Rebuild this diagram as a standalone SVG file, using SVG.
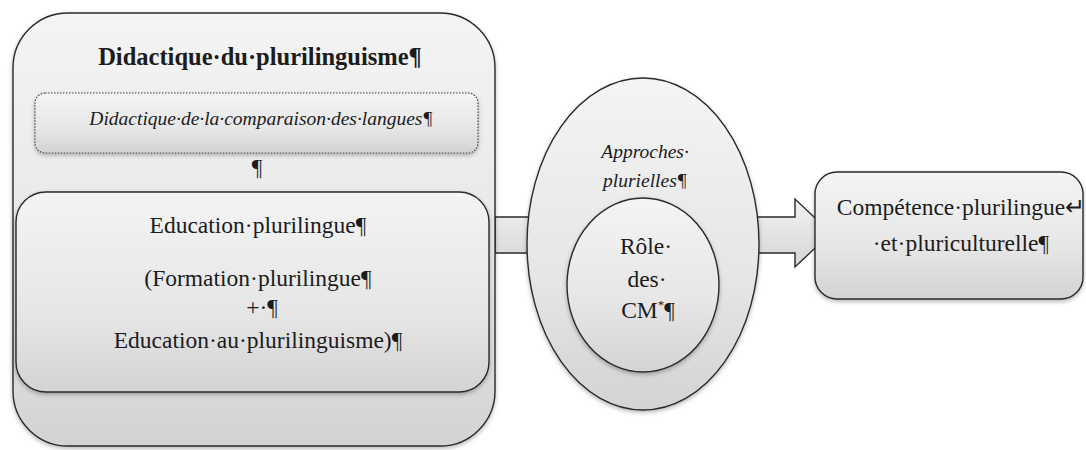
<svg xmlns="http://www.w3.org/2000/svg" width="1086" height="450" viewBox="0 0 1086 450">
<defs>
<linearGradient id="g" x1="0" y1="0" x2="0" y2="1">
<stop offset="0" stop-color="#f4f4f5"/>
<stop offset="0.6" stop-color="#e6e6e7"/>
<stop offset="1" stop-color="#d3d3d4"/>
</linearGradient>
<linearGradient id="ga" x1="0" y1="0" x2="0" y2="1">
<stop offset="0" stop-color="#f2f2f2"/>
<stop offset="0.5" stop-color="#e4e4e4"/>
<stop offset="1" stop-color="#d6d6d6"/>
</linearGradient>
<filter id="sh" x="-10%" y="-10%" width="120%" height="120%">
<feDropShadow dx="0" dy="2" stdDeviation="2" flood-color="#000" flood-opacity="0.28"/>
</filter>
</defs>
<style>
.shape{fill:url(#g);stroke:#2a2a2a;stroke-width:1.4;filter:url(#sh)}
.dot{fill:url(#g);stroke:#4a4a4a;stroke-width:1.2;stroke-dasharray:1.5 1.5;filter:url(#sh)}
.t{font-family:"Liberation Serif","Times New Roman",serif;fill:#1c1c1c;text-anchor:middle}
.r{font-size:23.5px}
.b{font-size:24.5px;font-weight:bold}
.i{font-size:19.5px;font-style:italic}
</style>
<rect width="1086" height="450" fill="#ffffff"/>
<g id="connectors">
<path d="M495,217 L795,217 L795,199 L831,233 L795,267 L795,253 L495,253 Z" fill="url(#ga)" stroke="#2a2a2a" stroke-width="1.4"/>
</g>
<g id="node-didactique-plurilinguisme">
<rect class="shape" x="13" y="13" width="482" height="433" rx="55" ry="55"/>
<text class="t b" x="260" y="65">Didactique·du·plurilinguisme¶</text>
</g>
<g id="node-comparaison-langues">
<rect class="dot" x="35" y="93" width="443" height="60" rx="10" ry="10"/>
<text class="t i" x="261" y="125">Didactique·de·la·comparaison·des·langues¶</text>
</g>
<text class="t r" x="257" y="175">¶</text>
<g id="node-education-plurilingue">
<rect class="shape" x="16" y="192" width="473" height="200" rx="30" ry="30"/>
<text class="t r" x="258" y="233">Education·plurilingue¶</text>
<text class="t r" x="258" y="286">(Formation·plurilingue¶</text>
<text class="t r" x="262" y="315">+·¶</text>
<text class="t r" x="258" y="348">Education·au·plurilinguisme)¶</text>
</g>
<g id="node-approches-plurielles">
<ellipse class="shape" cx="643" cy="244" rx="116" ry="166"/>
<text class="t i" x="645" y="158">Approches·</text>
<text class="t i" x="645" y="187">plurielles¶</text>
</g>
<g id="node-role-cm">
<ellipse class="shape" cx="643" cy="285" rx="76" ry="87"/>
<text class="t r" x="646" y="254">Rôle·</text>
<text class="t r" x="647" y="287">des·</text>
<text class="t r" x="648" y="318">CM<tspan font-size="13" dy="-9">*</tspan><tspan dy="9">¶</tspan></text>
</g>
<g id="node-competence">
<rect class="shape" x="815" y="172" width="268" height="127" rx="22" ry="22"/>
<text class="t r" x="961" y="215">Compétence·plurilingue↵</text>
<text class="t r" x="961" y="251">·et·pluriculturelle¶</text>
</g>
</svg>
